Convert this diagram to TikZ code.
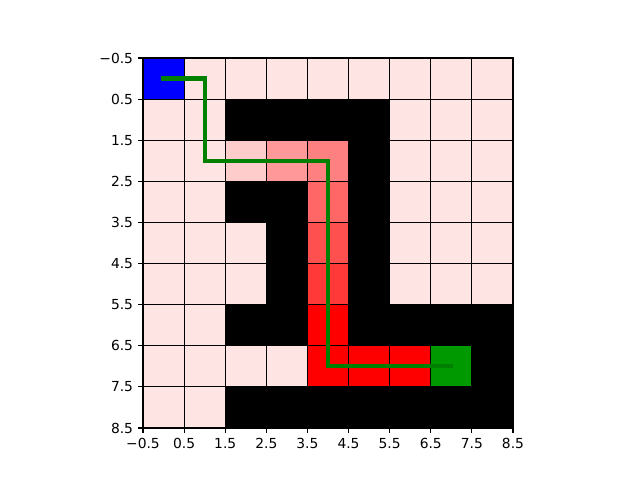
\documentclass[tikz,border=0pt]{standalone}
\usepackage{fontspec}
\setmainfont{DejaVu Sans}
\definecolor{mazefree}{RGB}{255,228,228}
\definecolor{mazestart}{RGB}{0,0,255}
\definecolor{mazegoal}{RGB}{0,153,0}
\definecolor{visitA}{RGB}{255,204,204}
\definecolor{visitB}{RGB}{255,153,153}
\definecolor{visitC}{RGB}{255,128,128}
\definecolor{visitD}{RGB}{255,102,102}
\definecolor{visitE}{RGB}{255,80,80}
\definecolor{visitF}{RGB}{255,56,56}
\definecolor{visitG}{RGB}{255,0,0}
\definecolor{routegreen}{RGB}{0,128,0}

\begin{document}
\begin{tikzpicture}[x=0.4111in,y=-0.4111in,
  cellW/.style={fill=mazefree},
  cellK/.style={fill=black},
  cellS/.style={fill=mazestart},
  cellT/.style={fill=mazegoal},
  cellA/.style={fill=visitA},
  cellB/.style={fill=visitB},
  cellC/.style={fill=visitC},
  cellD/.style={fill=visitD},
  cellE/.style={fill=visitE},
  cellF/.style={fill=visitF},
  cellG/.style={fill=visitG},
  gridline/.style={line width=0.7pt,black},
  spine/.style={line width=0.8pt,black},
  ticklabel/.style={inner sep=0pt,font=\fontsize{10}{12}\selectfont},
  route/.style={line width=3pt,routegreen,line cap=rect}]
  \useasboundingbox (-3.9785,-1.911) rectangle (11.59,9.765);

  % maze cells, row by row
  \foreach \row [count=\r from 0] in {
    {S,W,W,W,W,W,W,W,W},
    {W,W,K,K,K,K,W,W,W},
    {W,W,A,B,C,K,W,W,W},
    {W,W,K,K,D,K,W,W,W},
    {W,W,W,K,E,K,W,W,W},
    {W,W,W,K,F,K,W,W,W},
    {W,W,K,K,G,K,K,K,K},
    {W,W,W,W,G,G,G,T,K},
    {W,W,K,K,K,K,K,K,K}}{
    \foreach \c [count=\k from 0] in \row
      \fill[cell\c] (\k-0.5,\r-0.5) rectangle ++(1,1);
  }

  % cell borders
  \foreach \i in {0,...,9}{
    \draw[gridline] (\i-0.5,-0.5) -- (\i-0.5,8.5);
    \draw[gridline] (-0.5,\i-0.5) -- (8.5,\i-0.5);
  }

  % found route
  \draw[route] (0,0) -- (1,0) -- (1,2) -- (4,2) -- (4,7) -- (7,7);

  % axes
  \draw[spine] (-0.5,-0.5) rectangle (8.5,8.5);
  \foreach \v/\lab [count=\n] in {-0.5/−0.5,0.5/0.5,1.5/1.5,2.5/2.5,3.5/3.5,
      4.5/4.5,5.5/5.5,6.5/6.5,7.5/7.5,8.5/8.5}{
    \draw[spine] (\v,8.5) -- ++(0pt,-3.5pt) coordinate (xend\n);
    \node[ticklabel,anchor=north] (xtick\n) at ([yshift=-3.5pt]xend\n) {\lab};
    \draw[spine] (-0.5,\v) -- ++(-3.5pt,0pt) coordinate (yend\n);
    \node[ticklabel,anchor=east] (ytick\n) at ([xshift=-3.5pt]yend\n) {\lab};
  }
\end{tikzpicture}
\end{document}
